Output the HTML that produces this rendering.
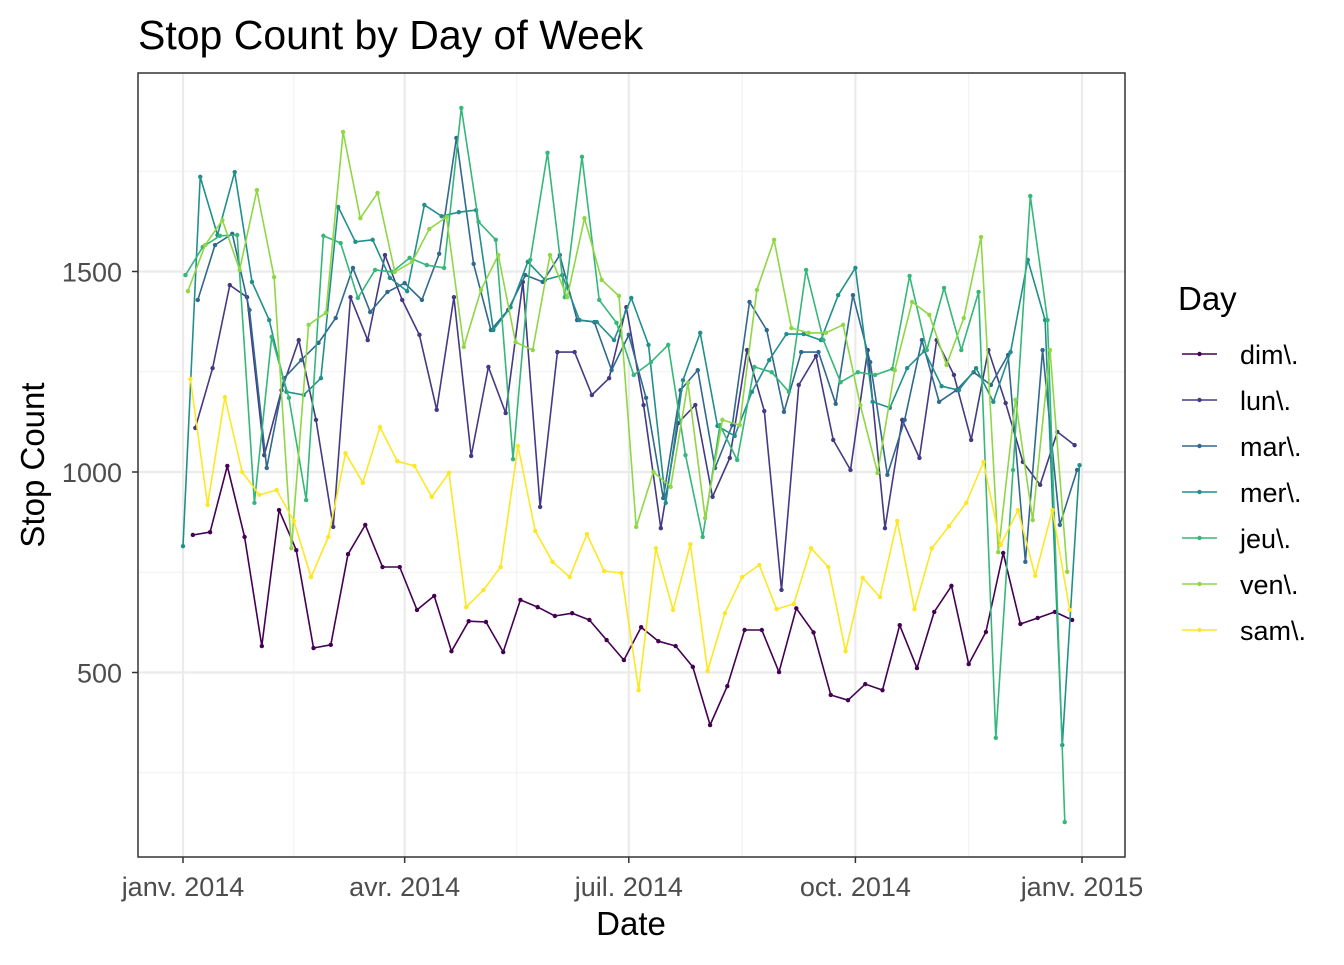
<!DOCTYPE html>
<html><head><meta charset="utf-8"><style>
body{margin:0;background:#fff;}
svg{font-family:"Liberation Sans",Arial,sans-serif;}
</style></head><body>
<svg id="chart" width="1344" height="960" xmlns="http://www.w3.org/2000/svg">
<rect width="1344" height="960" fill="#fff"/>
<text x="138" y="49" font-size="41" fill="#000">Stop Count by Day of Week</text>
<g id="grid"></g>
<g id="series"></g>
<rect x="138" y="73" width="987" height="784" fill="none" stroke="#333" stroke-width="1.5"/>
<g id="axes"></g>
<text x="631" y="935" font-size="33" text-anchor="middle">Date</text>
<text transform="translate(44,465) rotate(-90)" font-size="33" text-anchor="middle">Stop Count</text>
<g id="legend"></g>
</svg>
<script>
const dayNames=["dim\\.","lun\\.","mar\\.","mer\\.","jeu\\.","ven\\.","sam\\."];
const startDays=[4,5,6,0,1,2,3];
const yTicks=[500,1000,1500];
const xTickDays=[0,90,181,273,365];
const xTickLabels=["janv. 2014","avr. 2014","juil. 2014","oct. 2014","janv. 2015"];
const dim=[843,850,1015,838,566,905,805,561,569,795,868,763,763,656,691,553,628,626,551,681,663,641,648,631,581,531,613,578,566,514,369,466,606,606,501,660,600,444,431,471,456,618,511,651,716,521,601,798,621,636,651,631];
const lun=[1110,1259,1466,1436,1042,1204,1329,1130,863,1436,1329,1541,1429,1342,1155,1436,1040,1262,1147,1474,913,1299,1299,1192,1234,1411,1167,860,1122,1167,938,1035,1304,1152,706,1217,1289,1080,1005,1304,860,1130,1035,1329,1242,1080,1304,1172,1025,968,1100,1067];
const mar=[1429,1566,1594,1404,1010,1234,1279,1322,1384,1509,1399,1449,1471,1429,1544,1833,1519,1354,1404,1491,1474,1541,1379,1374,1254,1342,1185,935,1204,1254,1010,1117,1424,1354,1150,1299,1299,1170,1441,1274,993,1130,1329,1175,1204,1249,1217,1292,776,1304,868,1005];
const mer=[815,1736,1591,1748,1474,1379,1200,1192,1234,1661,1574,1579,1484,1451,1666,1638,1648,1653,1354,1411,1524,1479,1491,1379,1374,1329,1434,1317,923,1229,1347,1115,1090,1200,1279,1344,1344,1329,1441,1509,1175,1160,1259,1302,1214,1204,1259,1175,1299,1529,1379,319,1017];
const jeu=[1491,1561,1589,1591,923,1337,1185,930,1589,1571,1434,1504,1499,1534,1516,1509,1908,1624,1579,1032,1529,1796,1436,1786,1429,1372,1242,1274,1317,1042,838,1117,1030,1262,1249,1200,1504,1329,1224,1249,1242,1257,1489,1304,1459,1304,1449,337,1005,1688,1379,127];
const ven=[1451,1566,1628,1504,1703,1486,810,1367,1397,1848,1633,1696,1499,1524,1606,1636,1312,1454,1541,1324,1304,1541,1436,1633,1479,1439,863,1000,963,1222,885,1130,1117,1454,1579,1359,1347,1347,1367,1167,998,1254,1424,1392,1267,1384,1586,800,1180,880,1304,751];
const sam=[1232,918,1187,1000,943,955,878,738,838,1047,973,1112,1027,1015,938,998,663,706,763,1065,853,776,738,845,753,748,456,810,656,820,504,648,738,768,658,671,810,763,553,736,688,878,658,810,865,923,1025,818,905,741,905,656];
const allSeries=[dim,lun,mar,mer,jeu,ven,sam];
const colors=["#440154","#443A83","#31688E","#21908C","#35B779","#8FD744","#FDE725"];
const NS="http://www.w3.org/2000/svg";
const X0=183,PXD=(1082-183)/365;
const xs=d=>X0+d*PXD;
const ys=v=>472-(v-1000)*0.401;
function mk(tag,attrs,parent){const e=document.createElementNS(NS,tag);for(const k in attrs)e.setAttribute(k,attrs[k]);parent.appendChild(e);return e;}
const grid=document.getElementById('grid');
const axes=document.getElementById('axes');
[250,750,1250,1750].forEach(v=>{const l=mk('line',{x1:138,x2:1125,y1:ys(v),y2:ys(v),stroke:'#f0f0f0','stroke-width':1},grid);

});
for(let i=0;i<xTickDays.length-1;i++){const d=(xTickDays[i]+xTickDays[i+1])/2;const l=mk('line',{x1:xs(d),x2:xs(d),y1:73,y2:857,stroke:'#f0f0f0','stroke-width':1},grid);

}
yTicks.forEach(v=>{const l=mk('line',{x1:138,x2:1125,y1:ys(v),y2:ys(v),stroke:'#ebebeb','stroke-width':2.2},grid);


const t=mk('line',{x1:132,x2:138,y1:ys(v),y2:ys(v),stroke:'#333','stroke-width':1.5},axes);


const tx=mk('text',{x:122,y:ys(v)+10,'font-size':27,fill:'#4d4d4d','text-anchor':'end'},axes);tx.textContent=v;

});
xTickDays.forEach((d,i)=>{const l=mk('line',{x1:xs(d),x2:xs(d),y1:73,y2:857,stroke:'#ebebeb','stroke-width':2.2},grid);


const t=mk('line',{x1:xs(d),x2:xs(d),y1:857,y2:863,stroke:'#333','stroke-width':1.5},axes);


const tx=mk('text',{x:xs(d),y:896,'font-size':27,fill:'#4d4d4d','text-anchor':'middle'},axes);tx.textContent=xTickLabels[i];

});
const sg=document.getElementById('series');
allSeries.forEach((vals,s)=>{const g=mk('g',{},sg);


const pts=vals.map((v,i)=>xs(startDays[s]+7*i).toFixed(1)+','+ys(v).toFixed(1)).join(' ');
const pl=mk('polyline',{points:pts,fill:'none',stroke:colors[s],'stroke-width':1.6,'stroke-linejoin':'round'},g);


vals.forEach((v,i)=>{const c=mk('circle',{cx:xs(startDays[s]+7*i),cy:ys(v),r:2.2,fill:colors[s]},g);

});});
const lg=document.getElementById('legend');
const lt=mk('text',{x:1178,y:310,'font-size':33},lg);lt.textContent='Day';


dayNames.forEach((n,i)=>{const y=354+i*46;const g=mk('g',{},lg);


mk('line',{x1:1182,x2:1217,y1:y,y2:y,stroke:colors[i],'stroke-width':1.6},g);
mk('circle',{cx:1199.5,cy:y,r:2.2,fill:colors[i]},g);
const t=mk('text',{x:1240,y:y+10,'font-size':27},g);t.textContent=n;});
</script>
</body></html>
